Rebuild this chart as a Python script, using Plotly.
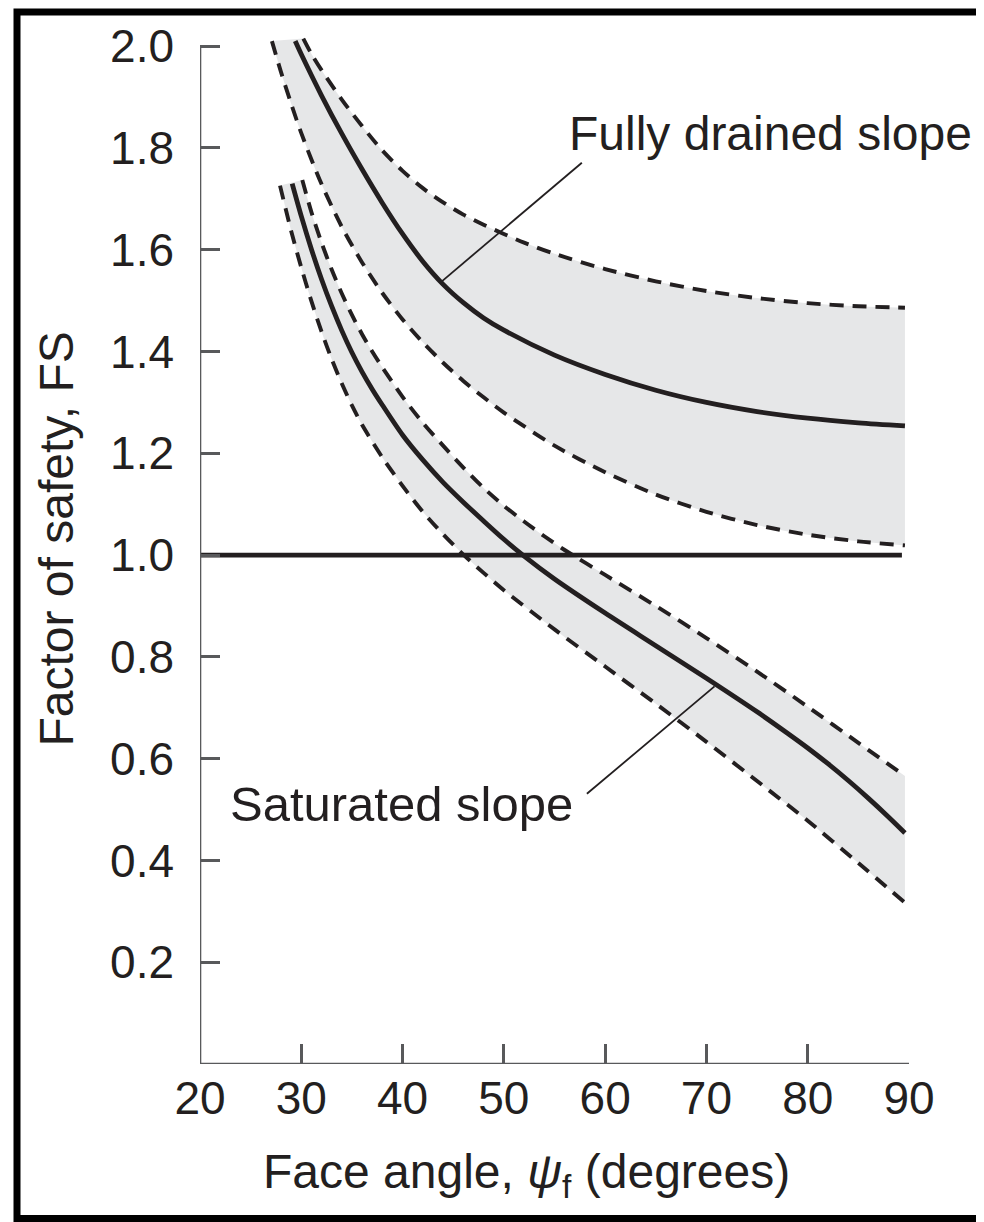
import plotly.graph_objects as go

# ---------------- data ----------------
# Fully drained slope: mean curve and dashed bounds
fd_mid_x = [29.4, 30, 32, 34, 36, 38, 40, 42, 44, 46, 48, 50, 55, 60, 65, 70, 75, 80, 85, 89.6]
fd_mid_y = [2.01, 1.984, 1.903, 1.828, 1.758, 1.692, 1.631, 1.577, 1.532, 1.496, 1.466,
            1.442, 1.393, 1.355, 1.324, 1.300, 1.282, 1.269, 1.260, 1.254]

fd_hi_x = [30.2, 31, 32, 34, 36, 38, 40, 42, 44, 46, 48, 50, 52, 55, 60, 65, 70, 75, 80, 85, 89.6]
fd_hi_y = [2.015, 1.985, 1.953, 1.895, 1.843, 1.795, 1.755, 1.721, 1.693, 1.669, 1.649,
           1.631, 1.614, 1.592, 1.562, 1.538, 1.519, 1.505, 1.495, 1.489, 1.486]

fd_lo_x = [27.1, 28, 29, 30, 32, 34, 36, 38, 40, 42, 44, 46, 48, 50, 55, 60, 65, 70, 75, 80,
           85, 89.6]
fd_lo_y = [2.01, 1.949, 1.887, 1.829, 1.729, 1.645, 1.575, 1.515, 1.463, 1.418, 1.378,
           1.342, 1.31, 1.28, 1.215, 1.163, 1.119, 1.085, 1.059, 1.04, 1.027, 1.019]

# Saturated slope: mean curve and dashed bounds
sat_mid_x = [29.1, 30, 31, 32, 33, 34, 35, 36, 37, 38, 40, 42, 44, 46, 48, 50, 52, 55, 60,
             65, 70, 75, 78, 80, 82, 84, 86, 88, 89.6]
sat_mid_y = [1.73, 1.666, 1.601, 1.542, 1.489, 1.441, 1.398, 1.36, 1.326, 1.295, 1.236,
             1.187, 1.143, 1.104, 1.067, 1.031, 0.998, 0.953, 0.886, 0.822, 0.758, 0.692,
             0.650, 0.621, 0.590, 0.557, 0.522, 0.485, 0.454]

sat_hi_x = [30.1, 31, 32, 33, 34, 35, 36, 37, 38, 40, 42, 44, 46, 48, 50, 52, 54, 56, 60,
            65, 70, 75, 80, 85, 89.6]
sat_hi_y = [1.737, 1.674, 1.614, 1.561, 1.514, 1.472, 1.434, 1.40, 1.369, 1.311, 1.26,
            1.215, 1.172, 1.132, 1.097, 1.066, 1.037, 1.01, 0.961, 0.90, 0.837, 0.771,
            0.702, 0.631, 0.566]

sat_lo_x = [27.9, 29, 30, 31, 32, 33, 34, 35, 36, 38, 40, 42, 44, 46, 48, 50, 55, 60, 65,
            70, 75, 80, 85, 89.6]
sat_lo_y = [1.726, 1.637, 1.565, 1.499, 1.439, 1.385, 1.337, 1.294, 1.256, 1.192, 1.136,
            1.085, 1.041, 1.001, 0.965, 0.931, 0.854, 0.781, 0.708, 0.633, 0.556, 0.478,
            0.395, 0.317]

# FS = 1.0 reference line
limit_x = [20, 89.3]
limit_y = [1.0, 1.0]

x_ticks = [20, 30, 40, 50, 60, 70, 80, 90]
y_ticks = [0.2, 0.4, 0.6, 0.8, 1.0, 1.2, 1.4, 1.6, 1.8, 2.0]
y_tick_text = ["0.2", "0.4", "0.6", "0.8", "1.0", "1.2", "1.4", "1.6", "1.8", "2.0"]

label_fd = "Fully drained slope"
label_sat = "Saturated slope"
leader_fd = ([43.7, 57.7], [1.535, 1.771])
leader_sat = ([70.8, 58.2], [0.742, 0.531])

x_title = "Face angle, <i>ψ</i><sub>f</sub> (degrees)"
y_title = "Factor of safety, FS"

# ---------------- styling ----------------
FONT = "Liberation Sans, Arial, Helvetica, sans-serif"
INK = "#231f20"
AXIS = "#58595b"
FILL = "#e6e7e8"
DASH = "14px,9px"
SPLINE = dict(shape="spline", smoothing=0.8)

fig = go.Figure()


def band(lo_x, lo_y, hi_x, hi_y):
    # invisible lower edge, then upper edge filled down to it
    fig.add_trace(go.Scatter(x=lo_x, y=lo_y, mode="lines", hoverinfo="skip",
                             showlegend=False, line=dict(width=0, **SPLINE)))
    fig.add_trace(go.Scatter(x=hi_x, y=hi_y, mode="lines", hoverinfo="skip",
                             showlegend=False, fill="tonexty", fillcolor=FILL,
                             line=dict(width=0, **SPLINE)))


band(fd_lo_x, fd_lo_y, fd_hi_x, fd_hi_y)
band(sat_lo_x, sat_lo_y, sat_hi_x, sat_hi_y)

for xs, ys in [(fd_hi_x, fd_hi_y), (fd_lo_x, fd_lo_y), (sat_hi_x, sat_hi_y), (sat_lo_x, sat_lo_y)]:
    fig.add_trace(go.Scatter(x=xs, y=ys, mode="lines", showlegend=False,
                             line=dict(color=INK, width=3.9, dash=DASH, **SPLINE)))

for xs, ys in [(fd_mid_x, fd_mid_y), (sat_mid_x, sat_mid_y)]:
    fig.add_trace(go.Scatter(x=xs, y=ys, mode="lines", showlegend=False,
                             line=dict(color=INK, width=4.8, **SPLINE)))

fig.add_trace(go.Scatter(x=limit_x, y=limit_y, mode="lines", showlegend=False,
                         line=dict(color=INK, width=4.8)))

# leader lines
for lx, ly in [leader_fd, leader_sat]:
    fig.add_trace(go.Scatter(x=lx, y=ly, mode="lines", showlegend=False,
                             line=dict(color=INK, width=1.8)))

annotations = [
    dict(x=56.2, y=1.828, xref="x", yref="y", text=label_fd, showarrow=False,
         xanchor="left", yanchor="middle", font=dict(family=FONT, size=48, color=INK)),
    dict(x=22.8, y=0.51, xref="x", yref="y", text=label_sat, showarrow=False,
         xanchor="left", yanchor="middle", font=dict(family=FONT, size=49, color=INK)),
    dict(x=(526 - 200) / 709, y=(1064 - 1175) / 1031, xref="paper", yref="paper",
         text=x_title, showarrow=False, xanchor="center", yanchor="middle",
         font=dict(family=FONT, size=48, color=INK)),
    dict(x=(57 - 200) / 709, y=(1064 - 538) / 1031, xref="paper", yref="paper",
         text=y_title, showarrow=False, textangle=-90, xanchor="center", yanchor="middle",
         font=dict(family=FONT, size=48, color=INK)),
]

shapes = [
    # axis lines
    dict(type="line", xref="x", yref="y", x0=20, x1=20, y0=0, y1=2.0,
         line=dict(color=AXIS, width=2.6), layer="above"),
    dict(type="line", xref="x", yref="y", x0=20, x1=90, y0=0, y1=0,
         line=dict(color=AXIS, width=2.6), layer="above"),
    # outer frame
    dict(type="rect", xref="paper", yref="paper",
         x0=(17 - 200) / 709, x1=(981 - 200) / 709,
         y0=(1064 - 1219) / 1031, y1=(1064 - 9) / 1031,
         line=dict(color="black", width=7), fillcolor="rgba(0,0,0,0)", layer="above"),
]

# the page body has an 8px margin, so margins are reduced by 8px on left/top
fig.update_layout(
    width=984, height=1222,
    margin=dict(l=192, r=83, t=25, b=166),
    paper_bgcolor="white", plot_bgcolor="white",
    font=dict(family=FONT, color=INK),
    showlegend=False,
    annotations=annotations,
    shapes=shapes,
)
fig.update_xaxes(range=[20, 90], tickvals=x_ticks, ticks="inside", ticklen=20,
                 tickwidth=2.6, tickcolor=AXIS, showgrid=False, zeroline=False,
                 showline=False, tickfont=dict(family=FONT, size=46, color=INK),
                 ticklabelstandoff=3)
fig.update_yaxes(range=[0, 2.02], tickvals=y_ticks, ticktext=y_tick_text, ticks="inside",
                 ticklen=20, tickwidth=2.6, tickcolor=AXIS, showgrid=False, zeroline=False,
                 showline=False, tickfont=dict(family=FONT, size=46, color=INK),
                 ticklabelstandoff=25)

fig.write_html("out.html")
